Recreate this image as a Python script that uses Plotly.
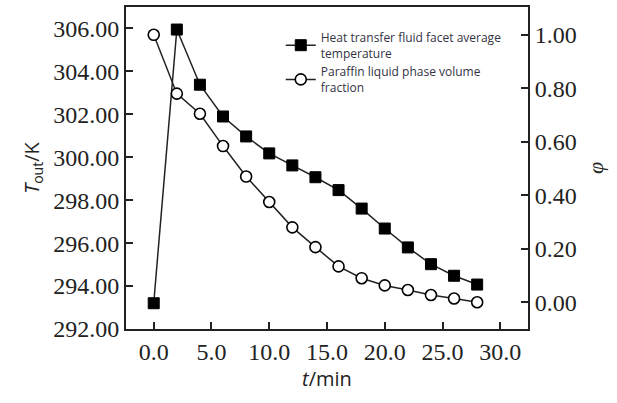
import plotly.graph_objects as go

t_min = [0, 2, 4, 6, 8, 10, 12, 14, 16, 18, 20, 22, 24, 26, 28]
T_out = [293.2, 305.95, 303.38, 301.9, 300.97, 300.18, 299.62, 299.07, 298.47,
         297.61, 296.68, 295.8, 295.02, 294.48, 294.07]
phi = [1.0, 0.78, 0.705, 0.584, 0.47, 0.375, 0.28, 0.206, 0.134, 0.09,
       0.063, 0.046, 0.027, 0.014, 0.0]

left_ticks = [292, 294, 296, 298, 300, 302, 304, 306]
right_ticks = [0, 0.2, 0.4, 0.6, 0.8, 1.0]
x_ticks = [0, 5, 10, 15, 20, 25, 30]

serif = "Liberation Serif"
sans = "Open Sans"
ink = "#222222"

fig = go.Figure()
fig.add_trace(go.Scatter(
    x=t_min, y=T_out, mode="lines+markers",
    name="Heat transfer fluid facet average<br>temperature",
    line=dict(color="#222222", width=1.5),
    marker=dict(symbol="square", size=11, color="#000000",
                line=dict(color="#000000", width=1)),
    yaxis="y"))
fig.add_trace(go.Scatter(
    x=t_min, y=phi, mode="lines+markers",
    name="Paraffin liquid phase volume<br>fraction",
    line=dict(color="#222222", width=1.5),
    marker=dict(symbol="circle", size=11, color="#ffffff",
                line=dict(color="#000000", width=1.6)),
    yaxis="y2"))

fig.update_layout(
    width=617, height=403,
    margin=dict(l=126, r=89, t=5, b=74),
    paper_bgcolor="white", plot_bgcolor="white",
    showlegend=True,
    legend=dict(x=0.385, y=0.95, xanchor="left", yanchor="top",
                bgcolor="rgba(0,0,0,0)", font=dict(family=sans, size=12, color="#333344"),
                tracegroupgap=0, itemwidth=30),
    xaxis=dict(range=[-2.4, 32.4], tickvals=x_ticks,
               ticktext=[f"{v:.1f}" for v in x_ticks],
               ticks="inside", ticklen=7, tickwidth=1.5, tickcolor="#222",
               showline=True, linecolor="#222", linewidth=2, mirror=True,
               showgrid=False, zeroline=False,
               tickfont=dict(family=serif, size=24, color=ink),
               title=dict(text="<i>t</i>/min", font=dict(family=sans, size=20, color=ink),
                          standoff=6)),
    yaxis=dict(range=[292, 307], tickvals=left_ticks,
               ticktext=[f"{v:.2f}" for v in left_ticks],
               ticks="inside", ticklen=7, tickwidth=1.5, tickcolor="#222",
               showline=True, linecolor="#222", linewidth=2,
               showgrid=False, zeroline=False,
               tickfont=dict(family=serif, size=24, color=ink),
               title=dict(text="<i>T</i><sub>out</sub>/K", font=dict(family=sans, size=20, color=ink),
                          standoff=8)),
    yaxis2=dict(range=[-0.1, 1.104], tickvals=right_ticks,
                ticktext=[f"{v:.2f}" for v in right_ticks],
                overlaying="y", side="right",
                ticks="inside", ticklen=7, tickwidth=1.5, tickcolor="#222",
                showline=True, linecolor="#222", linewidth=2,
                showgrid=False, zeroline=False,
                tickfont=dict(family=serif, size=24, color=ink),
                title=dict(text="<i>φ</i>", font=dict(family=serif, size=22, color=ink),
                           standoff=12)),
)

fig.write_html("out.html")
